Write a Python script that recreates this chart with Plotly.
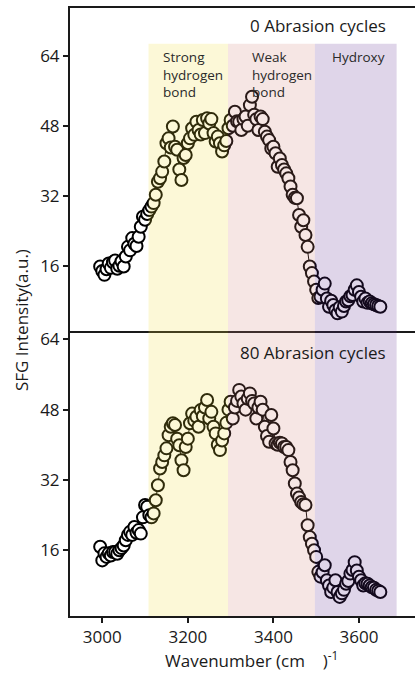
import plotly.graph_objects as go

# ---------------- data ----------------
wavenumber = list(range(2995, 3651, 5))

intensity_0 = [
    15.8, 14.8, 13.9, 15.2, 16.5, 15.5, 16.8, 17.2, 15.3, 16.0,
    17.0, 15.8, 18.1, 20.3, 19.5, 22.3, 21.0, 20.5, 22.6, 24.9,
    27.2, 26.5, 27.8, 28.7, 29.5, 30.3, 32.2, 35.2, 36.0, 37.5,
    39.8, 44.0, 45.1, 43.0, 47.8, 43.2, 42.5, 38.0, 35.6, 40.6,
    41.3, 44.0, 45.1, 47.4, 45.9, 48.9, 47.0, 46.0, 49.3, 46.3,
    49.7, 48.5, 49.5, 46.3, 44.4, 45.5, 44.0, 42.1, 43.5, 44.5,
    47.4, 49.3, 48.0, 51.2, 49.0, 48.9, 47.0, 49.5, 50.1, 48.0,
    52.7, 54.6, 50.5, 49.5, 47.0, 50.1, 49.5, 46.6, 45.5, 44.7,
    42.8, 43.2, 41.7, 38.6, 40.5, 39.0, 38.0, 37.1, 36.0, 34.1,
    32.2, 31.5, 31.4, 27.6, 24.9, 26.4, 23.0, 20.3, 15.8, 14.3,
    12.4, 10.5, 8.6, 8.9, 10.5, 11.9, 8.5, 6.6, 8.0, 7.0,
    5.8, 5.1, 6.5, 5.5, 6.8, 7.8, 8.1, 9.0, 9.3, 10.5,
    11.5, 10.0, 8.9, 7.8, 8.5, 7.5, 7.8, 7.4, 7.2, 7.0,
    6.8, 6.6,
]

intensity_80 = [
    16.8, 13.7, 15.3, 14.5, 15.3, 14.8, 15.6, 15.6, 15.2, 16.0,
    16.5, 17.1, 18.3, 19.5, 20.2, 19.5, 21.3, 20.0, 20.6, 19.8,
    23.5, 26.3, 25.9, 24.0, 23.5, 24.4, 27.4, 30.8, 34.6, 36.1,
    37.6, 39.2, 42.2, 44.1, 44.9, 44.5, 41.4, 39.9, 36.5, 34.2,
    39.5, 41.4, 44.9, 47.1, 45.5, 46.4, 44.1, 47.9, 46.5, 48.5,
    50.2, 46.0, 47.5, 44.1, 42.6, 40.0, 38.8, 41.0, 42.6, 45.0,
    48.0, 49.8, 46.0, 48.5, 50.0, 52.5, 51.0, 49.4, 48.0, 50.5,
    51.7, 50.0, 49.4, 46.0, 48.5, 49.8, 48.0, 44.1, 42.0, 40.7,
    46.8, 43.7, 40.3, 40.0, 40.5, 40.3, 39.5, 39.5, 38.8, 36.1,
    34.2, 31.2, 28.9, 28.0, 27.0, 26.5, 26.3, 21.7, 19.0, 17.5,
    16.0, 14.5, 11.1, 10.0, 11.0, 12.6, 9.2, 8.0, 6.5, 7.5,
    9.2, 6.5, 5.4, 6.2, 7.0, 8.4, 9.0, 10.7, 11.5, 13.3,
    11.4, 10.0, 9.2, 8.0, 8.5, 8.4, 8.0, 7.6, 7.5, 7.0,
    6.8, 6.5,
]

y_ticks = [16, 32, 48, 64]
x_ticks = [3000, 3200, 3400, 3600]

region_names = ["Strong<br>hydrogen<br>bond", "Weak<br>hydrogen<br>bond", "Hydroxy"]
region_edges = [3108, 3294, 3497, 3688]
region_colors = ["rgb(240,222,55)", "rgb(212,130,120)", "rgb(95,45,145)"]

panel_labels = ["0 Abrasion cycles", "80 Abrasion cycles"]

# ---------------- figure ----------------
FONT = "Open Sans"
W, H = 415, 675
ML, MR, MT, MB = 70, 0, 8, 59
PW, PH = W - ML - MR, H - MT - MB
split = 285 / PH  # bottom panel height fraction

x_range = [2924.5, 3731]
y_top_range = [1.07, 74.9]
y_bot_range = [1.05, 65.9]

def px_to_paper_y(py):
    return (H - MB - py) / PH

def px_to_paper_x(px):
    return (px - ML) / PW

fig = go.Figure()

marker = dict(symbol="circle", size=12, color="white",
              line=dict(color="black", width=2))
line = dict(color="black", width=1)

fig.add_trace(go.Scatter(x=wavenumber, y=intensity_0, mode="lines+markers",
                         marker=marker, line=line, xaxis="x2", yaxis="y2",
                         showlegend=False, hoverinfo="x+y"))
fig.add_trace(go.Scatter(x=wavenumber, y=intensity_80, mode="lines+markers",
                         marker=marker, line=line, xaxis="x", yaxis="y",
                         showlegend=False, hoverinfo="x+y"))

shapes = []
for i, col in enumerate(region_colors):
    x0, x1 = region_edges[i], region_edges[i + 1]
    # bottom panel: full height
    shapes.append(dict(type="rect", xref="x", yref="y domain", x0=x0, x1=x1,
                       y0=0, y1=1, fillcolor=col, opacity=0.2,
                       line=dict(width=0), layer="above"))
    # top panel: up to ~66.7
    shapes.append(dict(type="rect", xref="x2", yref="y2", x0=x0, x1=x1,
                       y0=y_top_range[0], y1=66.7, fillcolor=col, opacity=0.2,
                       line=dict(width=0), layer="above"))

annotations = []
# region labels (top panel)
label_x = [3137, 3345, 3532]
for name, lx in zip(region_names, label_x):
    annotations.append(dict(text=name, x=lx, xref="x2", xanchor="left",
                            y=px_to_paper_y(46), yref="paper", yanchor="top",
                            showarrow=False, align="left",
                            font=dict(family=FONT, size=13.5, color="#2a2a2a")))

# panel labels
annotations.append(dict(text=panel_labels[0], x=px_to_paper_x(388), xref="paper",
                        xanchor="right", y=px_to_paper_y(26), yref="paper",
                        yanchor="middle", showarrow=False,
                        font=dict(family=FONT, size=17, color="#1a1a1a")))
annotations.append(dict(text=panel_labels[1], x=px_to_paper_x(388), xref="paper",
                        xanchor="right", y=px_to_paper_y(353), yref="paper",
                        yanchor="middle", showarrow=False,
                        font=dict(family=FONT, size=17, color="#1a1a1a")))

# axis titles
annotations.append(dict(text="SFG Intensity(a.u.)", x=px_to_paper_x(22), xref="paper",
                        xanchor="center", y=px_to_paper_y(320), yref="paper",
                        yanchor="middle", textangle=-90, showarrow=False,
                        font=dict(family=FONT, size=17, color="#1a1a1a")))
annotations.append(dict(text="Wavenumber (cm\u00a0\u00a0\u00a0\u00a0)<sup>-1</sup>",
                        x=px_to_paper_x(163), xref="paper", xanchor="left",
                        y=px_to_paper_y(659), yref="paper", yanchor="middle",
                        showarrow=False,
                        font=dict(family=FONT, size=17, color="#1a1a1a")))

axis_common = dict(showgrid=False, zeroline=False, showline=True,
                   linecolor="#1a1a1a", linewidth=2,
                   tickfont=dict(family=FONT, size=17, color="#1a1a1a"),
                   tickcolor="#1a1a1a", tickwidth=1.5, ticklen=5)

fig.update_layout(
    width=W, height=H,
    margin=dict(l=ML, r=MR, t=MT, b=MB),
    paper_bgcolor="white", plot_bgcolor="white",
    xaxis=dict(**axis_common, domain=[0, 1], anchor="y", range=x_range,
               tickvals=x_ticks, ticks="outside"),
    yaxis=dict(**axis_common, domain=[0, split], anchor="x", range=y_bot_range,
               tickvals=y_ticks, ticks="outside"),
    xaxis2=dict(**axis_common, domain=[0, 1], anchor="y2", range=x_range,
                tickvals=x_ticks, ticks="", showticklabels=False, mirror=True),
    yaxis2=dict(**axis_common, domain=[split, 1], anchor="x2", range=y_top_range,
                tickvals=y_ticks, ticks="outside"),
    shapes=shapes,
    annotations=annotations,
    showlegend=False,
)

fig.write_html("out.html")
